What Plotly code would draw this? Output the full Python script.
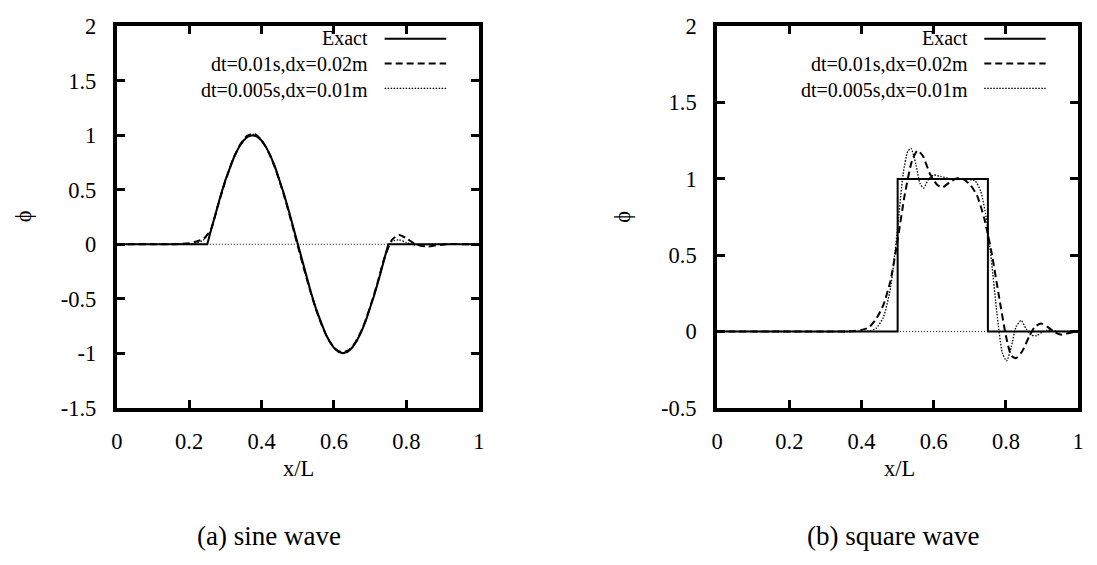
import plotly.graph_objects as go

W, H = 1097, 565
FONT = "Liberation Serif"
FS = 22.5
KEY_FS = 20

# ---------------- (a) sine wave ----------------
# exact solution: one sine period between x/L = 0.25 and 0.75
sine_exact_x = [0.0] + [round(0.25 + 0.0125 * k, 4) for k in range(41)] + [1.0]
sine_exact_y = [0.0,
                0.0, 0.156, 0.309, 0.454, 0.588, 0.707, 0.809, 0.891, 0.951, 0.988,
                1.0, 0.988, 0.951, 0.891, 0.809, 0.707, 0.588, 0.454, 0.309, 0.156,
                0.0, -0.156, -0.309, -0.454, -0.588, -0.707, -0.809, -0.891, -0.951, -0.988,
                -1.0, -0.988, -0.951, -0.891, -0.809, -0.707, -0.588, -0.454, -0.309, -0.156,
                0.0,
                0.0]

# numerical solutions sampled every 0.02 in x/L
grid_x = [round(0.02 * i, 2) for i in range(51)]
sine_coarse_y = [0, 0, 0, 0, 0, 0, 0, 0, 0, 0.003,
                 0.01, 0.025, 0.05, 0.135, 0.36, 0.58, 0.77, 0.91, 0.995, 1.015,
                 0.955, 0.84, 0.675, 0.47, 0.235, -0.015, -0.26, -0.49, -0.69, -0.845,
                 -0.95, -0.99, -0.975, -0.895, -0.76, -0.575, -0.355, -0.12, 0.04, 0.085,
                 0.055, 0.01, -0.015, -0.02, -0.012, -0.004, 0.003, 0.002, 0, 0, 0]
sine_fine_y = [0, 0, 0, 0, 0, 0, 0, 0, 0, 0,
               0.003, 0.012, 0.04, 0.13, 0.365, 0.585, 0.77, 0.905, 0.99, 1.008,
               0.955, 0.845, 0.683, 0.478, 0.244, -0.005, -0.253, -0.485, -0.687, -0.845,
               -0.951, -0.996, -0.98, -0.9, -0.767, -0.583, -0.362, -0.12, 0.025, 0.04,
               0.015, -0.005, -0.006, -0.002, 0, 0, 0, 0, 0, 0, 0]

# ---------------- (b) square wave ----------------
square_exact_x = [0.0, 0.5, 0.5, 0.75, 0.75, 1.0]
square_exact_y = [0.0, 0.0, 1.0, 1.0, 0.0, 0.0]

square_coarse_x = [0.0, 0.30, 0.36, 0.38, 0.40, 0.42, 0.44, 0.46, 0.48, 0.50,
                   0.52, 0.54, 0.555, 0.57, 0.59, 0.61, 0.625, 0.645, 0.665, 0.68,
                   0.70, 0.72, 0.74, 0.76, 0.78, 0.80, 0.815, 0.828, 0.845, 0.865,
                   0.88, 0.897, 0.915, 0.935, 0.955, 0.975, 1.0]
square_coarse_y = [0.0, 0.0, 0.0, 0.003, 0.01, 0.025, 0.08, 0.17, 0.33, 0.6,
                   0.9, 1.12, 1.185, 1.15, 1.03, 0.96, 0.945, 0.98, 1.005, 1.0,
                   0.965, 0.89, 0.74, 0.52, 0.24, -0.03, -0.16, -0.175, -0.13, -0.03,
                   0.03, 0.052, 0.03, -0.005, -0.022, -0.01, 0.0]

square_fine_x = [0.0, 0.40, 0.42, 0.44, 0.46, 0.48, 0.50, 0.515, 0.528, 0.537,
                 0.55, 0.562, 0.572, 0.585, 0.60, 0.62, 0.65, 0.69, 0.715, 0.73,
                 0.745, 0.76, 0.775, 0.79, 0.802, 0.815, 0.828, 0.842, 0.855, 0.87,
                 0.885, 0.90, 0.915, 0.93, 0.95, 1.0]
square_fine_y = [0.0, 0.0, 0.002, 0.02, 0.09, 0.28, 0.68, 1.03, 1.18, 1.2,
                 1.1, 0.97, 0.94, 0.995, 1.025, 1.015, 1.0, 1.0, 0.985, 0.92,
                 0.75, 0.46, 0.12, -0.14, -0.193, -0.1, 0.03, 0.072, 0.02, -0.025,
                 -0.028, -0.005, 0.008, 0.004, 0.0, 0.0]

# tick values and their printed labels (plain hyphen for negatives)
x_ticks = [0, 0.2, 0.4, 0.6, 0.8, 1]
x_labels = ["0", "0.2", "0.4", "0.6", "0.8", "1"]
ya_ticks = [-1.5, -1, -0.5, 0, 0.5, 1, 1.5, 2]
ya_labels = ["-1.5", "-1", "-0.5", "0", "0.5", "1", "1.5", "2"]
yb_ticks = [-0.5, 0, 0.5, 1, 1.5, 2]
yb_labels = ["-0.5", "0", "0.5", "1", "1.5", "2"]

legend_labels = ["Exact", "dt=0.01s,dx=0.02m", "dt=0.005s,dx=0.01m"]
line_styles = [dict(dash="solid", width=2),
               dict(dash="7px,4px", width=2),
               dict(dash="1.5px,1.5px", width=1.3)]

panels = [
    dict(xa="x", ya="y", exact=(sine_exact_x, sine_exact_y),
         coarse=(grid_x, sine_coarse_y), fine=(grid_x, sine_fine_y)),
    dict(xa="x2", ya="y2", exact=(square_exact_x, square_exact_y),
         coarse=(square_coarse_x, square_coarse_y), fine=(square_fine_x, square_fine_y)),
]

fig = go.Figure()
for p in panels:
    for key, st in zip(["exact", "coarse", "fine"], line_styles):
        xs, ys = p[key]
        fig.add_trace(go.Scatter(
            x=xs, y=ys, mode="lines", xaxis=p["xa"], yaxis=p["ya"], showlegend=False,
            line=dict(color="black", width=st["width"], dash=st["dash"],
                      shape="linear" if key == "exact" else "spline",
                      smoothing=0.6 if key != "exact" else None),
        ))

def px_x(v):
    return v / W

def px_y(v):
    return 1 - v / H

PLOT_TOP, PLOT_BOTTOM = 15, 414
y_dom = [px_y(PLOT_BOTTOM), px_y(PLOT_TOP)]
axis_common = dict(
    showline=True, linewidth=4, linecolor="black", mirror="allticks",
    ticks="inside", ticklen=8, tickwidth=2.5, tickcolor="black",
    showgrid=False, zeroline=False, tickmode="array",
    tickfont=dict(family=FONT, size=FS, color="black"),
)

fig.update_layout(
    width=W, height=H, margin=dict(l=0, r=0, t=0, b=0),
    paper_bgcolor="white", plot_bgcolor="white",
    xaxis=dict(domain=[px_x(112), px_x(478)], range=[0, 1], tickvals=x_ticks, ticktext=x_labels,
               anchor="y", ticklabelstandoff=10, **axis_common),
    yaxis=dict(domain=y_dom, range=[-1.5, 2], tickvals=ya_ticks, ticktext=ya_labels, anchor="x",
               ticklabelstandoff=12, **axis_common),
    xaxis2=dict(domain=[px_x(719), px_x(1084)], range=[0, 1], tickvals=x_ticks, ticktext=x_labels,
                anchor="y2", ticklabelstandoff=10, **axis_common),
    yaxis2=dict(domain=y_dom, range=[-0.5, 2], tickvals=yb_ticks, ticktext=yb_labels, anchor="x2",
                ticklabelstandoff=12, **axis_common),
)

# key rows: block centred 39 px below the frame top, 1.3 em line spacing
key_center_px = 54
key_step_px = 1.3 * KEY_FS
plot_h = PLOT_BOTTOM - PLOT_TOP
key_rows = [(PLOT_BOTTOM - (key_center_px + k * key_step_px)) / plot_h for k in (-1, 0, 1)]

shapes = []
annotations = []
for p in panels:
    xd = p["xa"] + " domain"
    yd = p["ya"] + " domain"
    # dotted zero axis
    shapes.append(dict(type="line", xref=xd, yref=p["ya"], x0=0, x1=1, y0=0, y1=0,
                       line=dict(color="black", width=1, dash="1px,2px"), layer="below"))
    # key: labels on the left (one right-aligned block), line samples on the right
    annotations.append(dict(text="<br>".join(legend_labels), xref=xd, yref=yd,
                            x=0.70, y=key_rows[1], xanchor="right", yanchor="middle",
                            align="right", showarrow=False,
                            font=dict(family=FONT, size=KEY_FS, color="black")))
    for st, yr in zip(line_styles, key_rows):
        shapes.append(dict(type="line", xref=xd, yref=yd, x0=0.74, x1=0.91, y0=yr, y1=yr,
                           line=dict(color="black", width=st["width"], dash=st["dash"])))

# axis titles and captions
for xc, phi_x, cap_x, cap in [(296, 18, 266, "(a) sine wave"), (903, 623, 897, "(b) square wave")]:
    annotations.append(dict(text="x/L", xref="paper", yref="paper", x=px_x(xc), y=px_y(478),
                            xanchor="center", yanchor="middle", showarrow=False,
                            font=dict(family=FONT, size=FS, color="black")))
    annotations.append(dict(text="ϕ", xref="paper", yref="paper", x=px_x(phi_x), y=px_y(214),
                            xanchor="center", yanchor="middle", showarrow=False, textangle=-90,
                            font=dict(family=FONT, size=FS, color="black")))
    annotations.append(dict(text=cap, xref="paper", yref="paper", x=px_x(cap_x), y=px_y(548),
                            xanchor="center", yanchor="middle", showarrow=False,
                            font=dict(family=FONT, size=27, color="black")))

fig.update_layout(shapes=shapes, annotations=annotations)
fig.write_html("out.html")
